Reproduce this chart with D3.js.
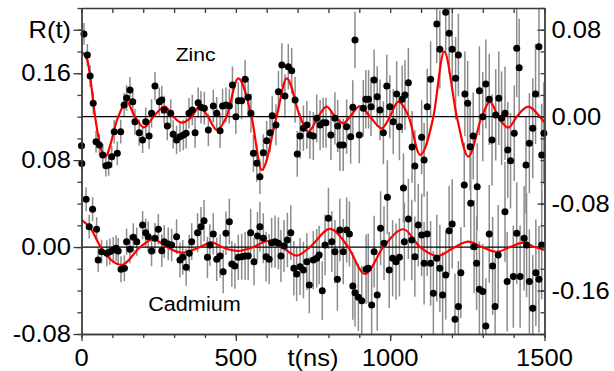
<!DOCTYPE html>
<html><head><meta charset="utf-8">
<script src="https://cdn.jsdelivr.net/npm/d3@7"></script>
<style>body{margin:0;background:#fff}svg{display:block}</style>
</head><body>
<svg id="c" width="614" height="371"></svg>
<script>
// Zinc: [t (ns), R(t) on right axis, error]
const zinc = [
[0,-0.0267,0.008],[1,-0.0430,0.008],[8,0.0761,0.010],[19,0.0568,0.010],[28,0.0374,0.010],[38,0.0123,0.010],[47,-0.0230,0.010],[58,-0.0260,0.010],[69,-0.0352,0.010],[79,-0.0451,0.010],
[88,-0.0444,0.010],[98,-0.0368,0.010],[106,-0.0138,0.011],[116,-0.0337,0.011],[127,-0.0138,0.011],[138,0.0108,0.011],[146,0.0172,0.012],[157,0.0246,0.012],[166,0.0138,0.012],[173,-0.0046,0.012],
[187,-0.0147,0.012],[198,-0.0214,0.012],[208,-0.0046,0.013],[219,-0.0178,0.012],[227,0.0031,0.013],[238,0.0282,0.013],[252,0.0138,0.013],[260,0.0154,0.013],[268,0.0062,0.013],[278,-0.0086,0.013],
[289,0.0031,0.013],[297,-0.0162,0.013],[308,-0.0214,0.013],[319,-0.0184,0.014],[330,-0.0168,0.014],[339,-0.0153,0.014],[348,0.0031,0.014],[359,0.0062,0.014],[368,-0.0147,0.014],[378,0.0129,0.014],
[387,0.0086,0.015],[398,0.0077,0.015],[411,-0.0122,0.015],[427,0.0098,0.015],[438,0.0031,0.015],[449,-0.0129,0.016],[457,0.0098,0.016],[468,0.0108,0.016],[479,0.0098,0.016],[489,0.0292,0.017],
[500,0.0000,0.016],[508,0.0147,0.017],[519,0.0147,0.017],[530,0.0344,0.018],[540,0.0178,0.018],[549,0.0031,0.018],[557,-0.0337,0.017],[568,-0.0429,0.017],[578,-0.0552,0.016],[589,-0.0331,0.017],
[600,-0.0221,0.018],[611,-0.0147,0.018],[618,0.0009,0.018],[630,-0.0076,0.019],[638,0.0230,0.019],[649,0.0476,0.020],[659,0.0190,0.020],[670,0.0460,0.021],[681,0.0423,0.021],[692,0.0154,0.021],
[699,-0.0343,0.021],[708,-0.0178,0.021],[719,-0.0107,0.021],[730,-0.0076,0.022],[740,-0.0168,0.022],[751,-0.0178,0.022],[762,-0.0015,0.022],[773,-0.0076,0.023],[783,-0.0055,0.023],[792,-0.0055,0.023],
[808,-0.0168,0.023],[821,-0.0015,0.024],[830,-0.0086,0.024],[837,-0.0260,0.024],[848,-0.0260,0.024],[859,-0.0092,0.025],[872,-0.0184,0.025],[879,0.0086,0.025],[886,0.0706,0.026],[900,-0.0168,0.026],
[913,0.0077,0.026],[921,0.0160,0.027],[930,0.0160,0.027],[938,0.0092,0.027],[948,0.0338,0.028],[958,0.0184,0.028],[967,0.0062,0.028],[978,-0.0147,0.029],[989,0.0282,0.029],[999,0.0092,0.029],
[1010,-0.0046,0.030],[1021,0.0209,0.030],[1030,-0.0092,0.031],[1039,0.0160,0.031],[1043,-0.0656,0.032],[1048,0.0200,0.032],[1059,0.0313,0.032],[1071,-0.0279,0.033],[1080,-0.0454,0.033],[1102,-0.0190,0.034],
[1110,-0.0398,0.034],[1120,0.0092,0.035],[1131,0.0344,0.035],[1151,0.0853,0.036],[1161,0.0620,0.036],[1180,0.0960,0.037],[1191,0.0767,0.037],[1201,0.0620,0.038],[1212,0.0353,0.038],[1221,0.0568,0.038],
[1240,-0.0628,0.039],[1242,0.0209,0.039],[1251,0.0123,0.039],[1259,-0.0276,0.040],[1269,-0.0178,0.040],[1282,-0.0644,0.040],[1289,0.0239,0.041],[1300,0.0000,0.041],[1310,0.0301,0.041],[1321,0.0160,0.042],
[1330,-0.0214,0.042],[1342,0.0016,0.042],[1352,0.0169,0.043],[1361,-0.0015,0.043],[1372,0.0031,0.043],[1381,-0.0306,0.044],[1390,-0.0405,0.044],[1402,-0.0153,0.044],[1410,0.0629,0.045],[1418,0.0451,0.045],
[1440,-0.0444,0.045],[1451,-0.0245,0.046],[1462,-0.0107,0.046],[1471,0.0209,0.046],[1482,0.0644,0.047],[1491,-0.0352,0.047],[1498,-0.0153,0.047]
];
// Cadmium: [t (ns), R(t) on left axis, error]
const cadmium = [
[15,0.0440,0.011],[25,0.0188,0.011],[36,0.0348,0.011],[49,0.0164,0.011],[54,-0.0119,0.011],[65,-0.0042,0.011],[82,-0.0057,0.012],[92,-0.0042,0.012],[103,-0.0027,0.012],[112,-0.0011,0.012],
[119,-0.0036,0.012],[128,-0.0204,0.012],[139,-0.0195,0.012],[146,0.0050,0.012],[157,-0.0020,0.013],[168,0.0090,0.013],[179,0.0050,0.013],[198,0.0203,0.013],[208,0.0132,0.013],[216,0.0096,0.014],
[227,-0.0036,0.014],[238,0.0081,0.014],[249,0.0164,0.014],[260,-0.0033,0.015],[268,0.0050,0.015],[281,0.0029,0.015],[292,0.0019,0.015],[308,0.0096,0.016],[319,-0.0119,0.016],[328,-0.0094,0.016],
[339,-0.0186,0.017],[349,-0.0057,0.017],[357,0.0050,0.017],[376,0.0132,0.018],[387,0.0188,0.018],[397,0.0243,0.019],[408,-0.0094,0.019],[416,0.0019,0.019],[427,0.0121,0.019],[438,-0.0112,0.020],
[449,-0.0082,0.020],[459,-0.0226,0.020],[468,0.0127,0.020],[479,0.0234,0.021],[487,-0.0155,0.021],[497,-0.0174,0.021],[508,-0.0094,0.021],[519,-0.0088,0.021],[530,-0.0082,0.022],[540,-0.0082,0.022],
[548,0.0132,0.022],[559,-0.0134,0.022],[570,0.0102,0.022],[578,0.0188,0.023],[589,0.0081,0.023],[598,-0.0088,0.023],[608,-0.0112,0.023],[616,0.0040,0.023],[627,0.0050,0.024],[638,0.0035,0.024],
[646,-0.0082,0.024],[656,0.0010,0.024],[667,0.0065,0.025],[678,0.0132,0.025],[688,-0.0195,0.025],[697,-0.0247,0.025],[708,-0.0180,0.026],[719,-0.0211,0.026],[730,-0.0134,0.026],[738,-0.0349,0.026],
[751,-0.0119,0.027],[762,-0.0103,0.027],[770,-0.0073,0.027],[780,-0.0401,0.027],[789,0.0019,0.028],[800,0.0265,0.028],[811,0.0050,0.028],[821,-0.0042,0.029],[829,-0.0296,0.029],[837,0.0157,0.029],
[848,-0.0042,0.030],[859,0.0157,0.030],[868,0.0121,0.030],[879,-0.0358,0.031],[886,-0.0420,0.031],[897,-0.0462,0.031],[908,-0.0493,0.032],[922,-0.0204,0.032],[929,-0.0195,0.032],[940,-0.0533,0.033],
[948,-0.0042,0.033],[958,-0.0441,0.033],[969,0.0173,0.034],[980,0.0035,0.034],[991,0.0458,0.034],[997,-0.0211,0.035],[1008,-0.0103,0.035],[1019,-0.0134,0.035],[1030,-0.0094,0.036],[1046,0.0050,0.036],
[1059,0.0259,0.037],[1070,0.0065,0.037],[1080,-0.0088,0.037],[1091,0.0203,0.038],[1102,0.0111,0.038],[1110,-0.0149,0.038],[1120,0.0121,0.039],[1131,-0.0149,0.039],[1140,-0.0425,0.039],[1151,-0.0103,0.040],
[1161,-0.0195,0.040],[1170,-0.0441,0.040],[1180,-0.0257,0.041],[1191,0.0151,0.041],[1201,0.0213,0.041],[1210,-0.0664,0.042],[1221,-0.0548,0.042],[1229,-0.0236,0.042],[1261,0.0403,0.043],[1272,0.0004,0.043],
[1280,-0.0149,0.043],[1289,-0.0388,0.044],[1300,-0.0410,0.044],[1310,-0.0726,0.044],[1321,0.0121,0.045],[1332,-0.0174,0.045],[1340,-0.0548,0.045],[1350,-0.0073,0.046],[1372,0.0326,0.046],[1379,-0.0318,0.046],
[1399,-0.0272,0.047],[1410,0.0127,0.047],[1421,-0.0272,0.047],[1434,0.0081,0.048],[1442,0.0019,0.048],[1451,-0.0318,0.048],[1462,-0.0563,0.049],[1472,-0.0236,0.049],[1482,-0.0296,0.049],[1491,0.0019,0.050]
];
// Fit curves: [t, R]
const zincFit = [[0,0.0598],[19,0.0520],[28,0.0368],[44,0],[76,-0.0368],[119,0],[146,0.0138],[173,0],[202,-0.0098],[233,0],[270,0.0092],[297,0],[325,-0.0055],[357,0],[382,0.0092],[410,0],[438,-0.0122],[470,0],[508,0.0353],[551,0],[584,-0.0490],[632,0],[665,0.0353],[708,0],[735,-0.0138],[767,0],[794,0.0092],[821,0],[848,-0.0061],[870,0],[902,0.0098],[935,0],[973,-0.0107],[999,0],[1026,0.0138],[1060,0],[1097,-0.0352],[1140,0],[1175,0.0598],[1216,0],[1253,-0.0368],[1297,0],[1323,0.0138],[1350,0],[1383,-0.0101],[1410,0],[1447,0.0092],[1485,0],[1500,-0.0055]];
const cdFit = [[0,0.0249],[30,0.0170],[62,0],[130,-0.0165],[190,0],[233,0.0072],[276,0],[325,-0.0052],[384,0],[422,0.0044],[454,0],[508,-0.0036],[557,0],[605,0.0056],[649,0],[697,-0.0079],[740,0],[805,0.0167],[864,0],[918,-0.0247],[978,0],[1043,0.0164],[1097,0],[1154,-0.0082],[1210,0],[1253,0.0050],[1297,0],[1345,-0.0045],[1388,0],[1431,0.0040],[1469,0],[1500,-0.0027]];

const xMinor = [0,100,200,300,400,500,600,700,800,900,1000,1100,1200,1300,1400,1500];
const xMajor = [0,500,1000,1500];
const xLabels = ["0","500","1000","1500"];
const leftMinor = [-0.08,-0.06,-0.04,-0.02,0,0.02,0.04,0.06,0.08,0.10,0.12,0.14,0.16,0.18,0.20,0.22];
const leftMajor = [-0.08,0,0.08,0.16,0.20];
const leftLabels = ["-0.08","0.00","0.08","0.16","R(t)"];
const rightMinor = [-0.20,-0.18,-0.16,-0.14,-0.12,-0.10,-0.08,-0.06,-0.04,-0.02,0,0.02,0.04,0.06,0.08,0.10];
const rightMajor = [-0.16,-0.08,0,0.08];
const rightLabels = ["-0.16","-0.08","0.00","0.08"];

const svg = d3.select("#c");
const FONT = "'Liberation Sans', Arial, Helvetica, sans-serif";
const x = d3.scaleLinear().domain([0,1500]).range([81.5,544.5]);
const yL = d3.scaleLinear().domain([-0.08,0.22]).range([334,8]);
const yR = d3.scaleLinear().domain([-0.20,0.10]).range([334,8]);

svg.append("defs").append("clipPath").attr("id","clip").append("rect")
  .attr("x",81.5).attr("y",8).attr("width",463).attr("height",326);
const plot = svg.append("g").attr("clip-path","url(#clip)");

// error bars
function errs(data, y){
  plot.append("g").selectAll("line").data(data).join("line")
    .attr("x1",d=>x(d[0])).attr("x2",d=>x(d[0]))
    .attr("y1",d=>y(d[1]-d[2])).attr("y2",d=>y(d[1]+d[2]))
    .attr("stroke","#8c8c8c").attr("stroke-width",1.5);
}
errs(zinc,yR); errs(cadmium,yL);

// zero lines
plot.append("line").attr("x1",81.5).attr("x2",544.5).attr("y1",yR(0)).attr("y2",yR(0)).attr("stroke","#000").attr("stroke-width",1.2);
plot.append("line").attr("x1",81.5).attr("x2",544.5).attr("y1",yL(0)).attr("y2",yL(0)).attr("stroke","#000").attr("stroke-width",1.2);

// dots
function dots(data, y){
  svg.append("g").selectAll("circle").data(data).join("circle")
    .attr("cx",d=>x(d[0])).attr("cy",d=>y(d[1])).attr("r",3.5).attr("fill","#000");
}
dots(zinc,yR); dots(cadmium,yL);

// fits
function fit(data, y){
  plot.append("path").datum(data)
    .attr("d", d3.line().x(d=>x(d[0])).y(d=>y(d[1])).curve(d3.curveMonotoneX))
    .attr("fill","none").attr("stroke","#ff0000").attr("stroke-width",2.2);
}
fit(zincFit,yR); fit(cdFit,yL);

// axes
function styleAxis(g){
  g.selectAll("path,line").attr("stroke","#3a3a3a").attr("stroke-width",1.3);
  g.selectAll("text").remove();
}
svg.append("g").attr("transform","translate(0,334)")
  .call(d3.axisBottom(x).tickValues(xMinor).tickSize(4).tickSizeOuter(0).tickFormat("")).call(styleAxis);
svg.append("g").attr("transform","translate(0,334)")
  .call(d3.axisBottom(x).tickValues(xMajor).tickSize(7).tickSizeOuter(0).tickFormat("")).call(styleAxis);
svg.append("g").attr("transform","translate(0,8)")
  .call(d3.axisTop(x).tickValues(xMinor).tickSize(-5).tickSizeOuter(0).tickFormat("")).call(styleAxis);
svg.append("g").attr("transform","translate(81.5,0)")
  .call(d3.axisLeft(yL).tickValues(leftMinor).tickSize(4).tickSizeOuter(0).tickFormat("")).call(styleAxis);
svg.append("g").attr("transform","translate(81.5,0)")
  .call(d3.axisLeft(yL).tickValues(leftMajor).tickSize(8).tickSizeOuter(0).tickFormat("")).call(styleAxis);
svg.append("g").attr("transform","translate(544.5,0)")
  .call(d3.axisRight(yR).tickValues(rightMinor).tickSize(-4).tickSizeOuter(0).tickFormat("")).call(styleAxis);
svg.append("g").attr("transform","translate(544.5,0)")
  .call(d3.axisRight(yR).tickValues(rightMajor).tickSize(-7).tickSizeOuter(0).tickFormat("")).call(styleAxis);

// labels (slightly widened glyphs like the source figure)
function label(px, py, txt, anchor, size, dy){
  svg.append("g").attr("transform",`translate(${px},${py}) scale(1.11,1)`)
    .append("text").attr("text-anchor",anchor).attr("dy",dy)
    .attr("font-family",FONT).attr("font-size",size).attr("fill","#000").text(txt);
}
leftMajor.forEach((v,i)=>label(71, yL(v), leftLabels[i], "end", 23, "0.35em"));
rightMajor.forEach((v,i)=>label(551.5, yR(v), rightLabels[i], "start", 23, "0.35em"));
xMajor.forEach((v,i)=>label(x(v), 365.5, xLabels[i], "middle", 23, 0));
label(x(750), 365.5, "t(ns)", "middle", 23, 0);
label(x(305), yR(0.0512), "Zinc", "start", 19, 0);
label(x(216), yL(-0.0590), "Cadmium", "start", 19.5, 0);
</script>
</body></html>
